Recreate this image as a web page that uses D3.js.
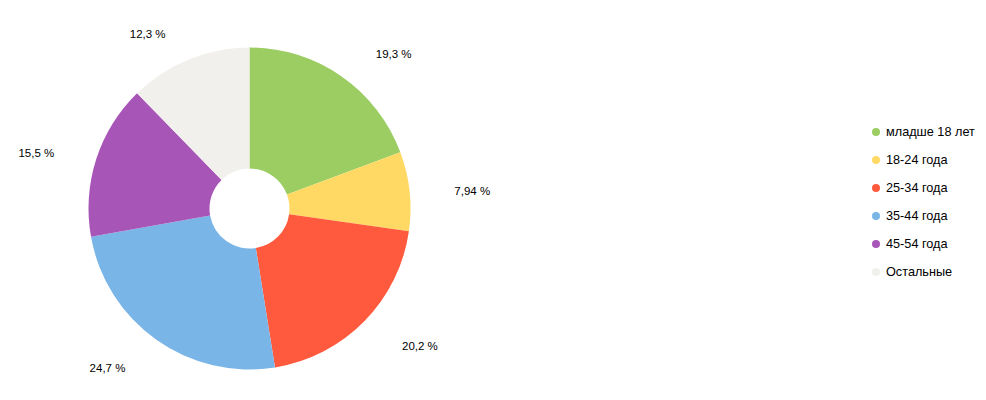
<!DOCTYPE html>
<html><head><meta charset="utf-8">
<script src="https://d3js.org/d3.v7.min.js"></script>
<style>body{margin:0;background:#fff}</style>
</head><body>
<svg id="c" width="986" height="400"></svg>
<script>
const categories = ["младше 18 лет","18-24 года","25-34 года","35-44 года","45-54 года","Остальные"];
const values = [19.3, 7.94, 20.2, 24.7, 15.5, 12.3];
const labels = ["19,3 %","7,94 %","20,2 %","24,7 %","15,5 %","12,3 %"];
const colors = ["#9bcd63","#ffd964","#ff5a3d","#7ab5e8","#a855b8","#f1f0ed"];
// label layout nudges (px)
const nudgeX = [10, 2, 7, -6, -1, -7];
const nudgeY = [13, 4, -6, -7, 7, 14];

const svg = d3.select("#c");
const cx = 249.5, cy = 208.5, R = 161, r0 = 40;
const g = svg.append("g").attr("transform", `translate(${cx},${cy})`);
const pie = d3.pie().sort(null).value(d => d)(values);
const arc = d3.arc().innerRadius(r0).outerRadius(R);
const color = d3.scaleOrdinal().domain(categories).range(colors);

g.selectAll("path").data(pie).enter().append("path")
  .attr("d", arc).attr("fill", (d,i) => color(categories[i]));

const lab = d3.arc().innerRadius(204).outerRadius(204);
g.selectAll("text").data(pie).enter().append("text")
  .attr("x", (d,i) => lab.centroid(d)[0] + nudgeX[i])
  .attr("y", (d,i) => lab.centroid(d)[1] + nudgeY[i])
  .attr("dy", "0.35em")
  .attr("text-anchor", d => ((d.startAngle+d.endAngle)/2 < Math.PI) ? "start" : "end")
  .attr("font-family", "Liberation Sans, Arial, sans-serif")
  .attr("font-size", 11.5).attr("fill", "#000")
  .text((d,i) => labels[i]);

const ly = d3.scalePoint().domain(categories).range([132, 272]);
const leg = svg.append("g");
const items = leg.selectAll("g").data(categories).enter().append("g")
  .attr("transform", d => `translate(876,${ly(d)})`);
items.append("circle").attr("r", 4).attr("fill", d => color(d));
items.append("text").attr("x", 10).attr("dy", "0.35em")
  .attr("font-family", "Liberation Sans, Arial, sans-serif")
  .attr("font-size", 12.7).attr("fill", "#000").text(d => d);
</script>
</body></html>
